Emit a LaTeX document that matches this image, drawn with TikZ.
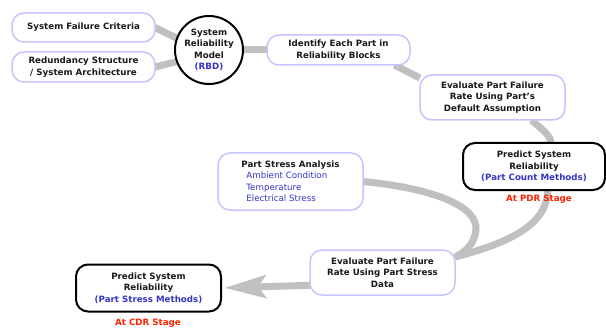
\documentclass[tikz,border=0pt]{standalone}
\usepackage{fontspec}
\setmainfont{DejaVu Sans}
\usetikzlibrary{arrows.meta,backgrounds}
\definecolor{linkgray}{HTML}{C0C0C0}
\definecolor{softblue}{HTML}{C4C4FF}
\definecolor{methodblue}{HTML}{3535C8}
\definecolor{stagered}{HTML}{FF2000}
\definecolor{inkgray}{HTML}{1A1A1A}

\begin{document}
\begin{tikzpicture}[x=1pt,y=-1pt,
  every node/.style={font=\fontsize{8.7}{11.5}\selectfont\bfseries, text=inkgray,
    inner sep=0pt, outer sep=0pt, align=center},
  softbox/.style={draw=softblue, line width=1.5pt, fill=white, rounded corners=12pt},
  keybox/.style={draw=black, line width=2pt, fill=white, rounded corners=12pt},
  link/.style={draw=linkgray, line width=7pt},
  stage/.style={text=stagered},
]
\useasboundingbox (0,0) rectangle (606,329);

% boxes of the prediction flow
\node[softbox, minimum width=143pt, minimum height=29pt] (sfc) at (83.5,27.5)
  {System Failure Criteria};
\node[softbox, minimum width=143pt, minimum height=30pt] (rsa) at (83.5,67)
  {Redundancy Structure\\/ System Architecture};
\node[draw=black, line width=2pt, fill=white, circle, minimum size=68pt] (rbd) at (209,50)
  {System\\Reliability\\Model\\{\color{methodblue}(RBD)}};
\node[softbox, minimum width=143pt, minimum height=30pt] (idp) at (338.5,50)
  {Identify Each Part in\\Reliability Blocks};
\node[softbox, minimum width=145pt, minimum height=45pt] (evd) at (492.5,97.5)
  {Evaluate Part Failure\\Rate Using Part's\\Default Assumption};
\node[keybox, minimum width=142pt, minimum height=47pt] (pcm) at (534,166.5)
  {Predict System\\Reliability\\{\color{methodblue}(Part Count Methods)}};
\node[stage] (pdr) at (539,199.5) {At PDR Stage};
\node[softbox, minimum width=145pt, minimum height=57pt, align=left] (psa) at (290.5,181.5)
  {Part Stress Analysis\\
   \hspace*{5pt}{\mdseries\color{methodblue}Ambient Condition}\\
   \hspace*{5pt}{\mdseries\color{methodblue}Temperature}\\
   \hspace*{5pt}{\mdseries\color{methodblue}Electrical Stress}};
\node[softbox, minimum width=145pt, minimum height=45pt] (esd) at (382.5,272.5)
  {Evaluate Part Failure\\Rate Using Part Stress\\Data};
\node[keybox, minimum width=145pt, minimum height=47pt] (psm) at (148.5,288)
  {Predict System\\Reliability\\{\color{methodblue}(Part Stress Methods)}};
\node[stage] (cdr) at (148,323.5) {At CDR Stage};

% grey connectors behind the boxes
\begin{scope}[on background layer]
  \draw[link] (sfc.east) -- (rbd.160);
  \draw[link] (rsa.east) -- (rbd.200);
  \draw[link] (rbd.east) -- (idp.west);
  \draw[link] (idp.-15) -- (evd.165);
  \draw[link] (evd.-30) .. controls (540,128) and (552,136) .. (pcm.55);
  \draw[link] (pcm.-60) .. controls (548,228) and (500,245) .. (esd.12);
  \draw[link] (psa.east) .. controls (430,188) and (478,205) .. (476,230)
                         .. controls (474,245) and (465,252) .. (esd.12);
  \draw[link, -{Stealth[length=42pt,width=24pt,inset=9pt,line width=0pt]}, shorten >=4pt]
    (esd.190) -- (psm.east);
\end{scope}
\end{tikzpicture}
\end{document}
